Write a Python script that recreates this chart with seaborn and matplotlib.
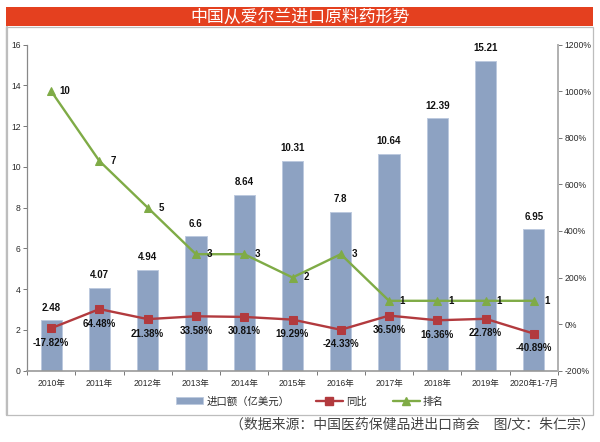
import numpy as np
import pandas as pd
import matplotlib
matplotlib.use("Agg")
import matplotlib.pyplot as plt
from matplotlib.patches import Rectangle
from matplotlib.lines import Line2D
import seaborn as sns

years = ["2010年", "2011年", "2012年", "2013年", "2014年", "2015年", "2016年",
         "2017年", "2018年", "2019年", "2020年1-7月"]
imports = [2.48, 4.07, 4.94, 6.6, 8.64, 10.31, 7.8, 10.64, 12.39, 15.21, 6.95]
growth = [-17.82, 64.48, 21.38, 33.58, 30.81, 19.29, -24.33, 36.50, 16.36, 22.78, -40.89]
rank = [10, 7, 5, 3, 3, 2, 3, 1, 1, 1, 1]
import_labels = ["2.48", "4.07", "4.94", "6.6", "8.64", "10.31", "7.8", "10.64", "12.39", "15.21", "6.95"]
growth_labels = ["-17.82%", "64.48%", "21.38%", "33.58%", "30.81%", "19.29%", "-24.33%",
                 "36.50%", "16.36%", "22.78%", "-40.89%"]
left_ticks = [0, 2, 4, 6, 8, 10, 12, 14, 16]
right_ticks = [-200, 0, 200, 400, 600, 800, 1000, 1200]

BAR = "#8DA2C2"; BAR_EDGE = "#BCC9DE"; RED = "#B23A3E"; GREEN = "#7FAB46"
FRAME = "#BDBDBD"; BANNER = "#E4401F"; TXT = "#2B2B2B"

sns.set_theme(style="white")
plt.rcParams["font.family"] = ["Liberation Sans", "Noto Sans CJK SC", "DejaVu Sans"]

W, H = 600, 442
fig = plt.figure(figsize=(W / 100, H / 100), dpi=100, facecolor="white")
def fx(x): return x / W
def fy(y): return 1 - y / H

# frame and banner
fig.add_artist(Rectangle((fx(6), fy(415)), 587 / W, 388 / H, transform=fig.transFigure,
                         facecolor="white", edgecolor=FRAME, linewidth=0.9, zorder=-2))
fig.add_artist(Line2D([fx(6.5)] * 2, [fy(27), fy(415)], transform=fig.transFigure, color=FRAME,
                      lw=1.6, zorder=-1))
fig.add_artist(Rectangle((fx(6), fy(26)), 587 / W, 19 / H, transform=fig.transFigure,
                         facecolor=BANNER, edgecolor="none", zorder=-1))
fig.text(fx(300), fy(16.5), "中国从爱尔兰进口原料药形势", color="white", fontsize=12.2,
         ha="center", va="center")

ax = fig.add_axes([fx(27), fy(370.7), (558 - 27) / W, (370.7 - 44.5) / H])
ax.patch.set_alpha(0)
df = pd.DataFrame({"year": years, "imports": imports, "growth": growth,
                   "rank": [r * 100 for r in rank], "pos": range(len(years))})
sns.barplot(data=df, x="year", y="imports", ax=ax, color=BAR, saturation=1, width=0.44,
            edgecolor=BAR_EDGE, linewidth=0.7, label="进口额（亿美元）", legend=False)
ax.set_xlim(-0.5, len(years) - 0.5)
ax.set_ylim(0, 16)
ax.set_yticks(left_ticks)
ax.set_xlabel(""); ax.set_ylabel("")
ax.set_xticks(range(len(years)), years)
ax.set_xticks(np.arange(-0.5, len(years)), minor=True)
ax.tick_params(axis="x", which="major", length=0, labelsize=6.2, colors=TXT, pad=6)
ax.tick_params(axis="x", which="minor", length=3, width=0.7, color="#777777", bottom=True)
ax.tick_params(axis="y", length=3, width=0.7, color="#777777", left=True, labelsize=6.2,
               labelcolor=TXT, pad=1.5)
for s in ["top", "right"]:
    ax.spines[s].set_visible(False)
ax.spines["left"].set_color("#888888"); ax.spines["left"].set_linewidth(0.9)
ax.spines["bottom"].set_color("#999999"); ax.spines["bottom"].set_linewidth(1.2)

ax2 = ax.twinx()
ax2.patch.set_alpha(0)
sns.lineplot(data=df, x="pos", y="rank", ax=ax2, color=GREEN, linewidth=1.7, marker="^",
             markersize=6.2, markeredgecolor=GREEN, legend=False)
sns.lineplot(data=df, x="pos", y="growth", ax=ax2, color=RED, linewidth=1.7, marker="s",
             markersize=5.2, markeredgecolor=RED, legend=False)
ax2.set_ylim(-200, 1200)
ax2.set_yticks(right_ticks, [f"{t}%" for t in right_ticks])
ax2.set_xlabel(""); ax2.set_ylabel("")
ax2.tick_params(axis="y", length=3, width=0.7, color="#777777", right=True, labelsize=6.2,
                labelcolor=TXT, pad=1.5)
for s in ["top", "left", "bottom"]:
    ax2.spines[s].set_visible(False)
ax2.spines["right"].set_color("#B0B0B0"); ax2.spines["right"].set_linewidth(1.4)

PX = 72 / 100  # points per pixel
lab = dict(fontsize=7, fontweight="bold", color="#111111", ha="center", va="center",
           textcoords="offset points", annotation_clip=False)
for i in range(len(years)):
    ax.annotate(import_labels[i], (i, imports[i]), xytext=(0, 12.5 * PX), **lab)
    ax2.annotate(growth_labels[i], (i, growth[i]), xytext=(0, -14.5 * PX), **lab)
    ax2.annotate(str(rank[i]), (i, rank[i] * 100), xytext=(13.5 * PX, 0), **lab)

handles = [Rectangle((0, 0), 1, 1, facecolor=BAR, edgecolor=BAR_EDGE, lw=0.6),
           Line2D([], [], color=RED, lw=1.7, marker="s", ms=5.2),
           Line2D([], [], color=GREEN, lw=1.7, marker="^", ms=5.2)]
fig.legend(handles, ["进口额（亿美元）", "同比", "排名"], loc="center", ncol=3,
           bbox_to_anchor=(fx(310), fy(401.5)), frameon=False, fontsize=7.5, labelcolor=TXT,
           handlelength=2.6, handleheight=0.65, handletextpad=0.3, columnspacing=2.5)

fig.text(fx(412), fy(425), "（数据来源：中国医药保健品进出口商会　图/文：朱仁宗）", color="#444444",
         fontsize=10, ha="center", va="center")
fig.savefig("out.png", dpi=100)
